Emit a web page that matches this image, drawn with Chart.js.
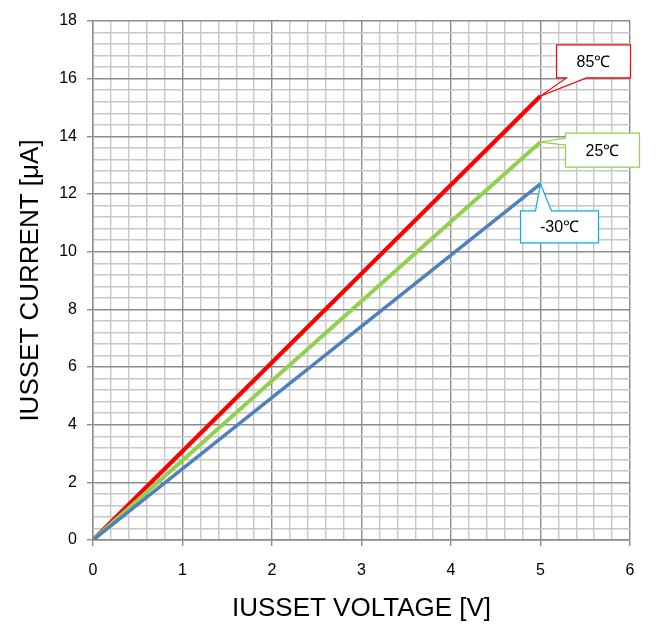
<!DOCTYPE html>
<html>
<head>
<meta charset="utf-8">
<script src="https://cdn.jsdelivr.net/npm/chart.js@4/dist/chart.umd.min.js"></script>
<style>
  html, body { margin: 0; padding: 0; background: #fff; }
  #wrap { width: 657px; height: 628px; }
</style>
</head>
<body>
<div id="wrap"><canvas id="chart" width="657" height="628"></canvas></div>
<script>
const voltage = [0, 5];
const current85 = [0, 15.4];
const current25 = [0, 13.8];
const currentM30 = [0, 12.35];
const seriesLabels = ["85℃", "25℃", "-30℃"];

const isMajor = (v, step) => Math.abs(v / step - Math.round(v / step)) < 1e-6;

function toPoints(ys) {
    return voltage.map((x, i) => ({ x, y: ys[i] }));
}

// callout boxes, offsets relative to the last point of each line
const callouts = [
    { label: "85℃", color: "#FF0000", box: [16, -51, 90, -18], edge: "bottom", base: [26, 46] },
    { label: "25℃", color: "#92D050", box: [25, -9, 99, 25], edge: "left", base: [-4, 3] },
    { label: "-30℃", color: "#00B0F0", box: [-20, 27, 58, 59], edge: "top", base: [-5, 11] }
];

const calloutPlugin = {
    id: "callouts",
    afterDatasetsDraw(chart) {
        const ctx = chart.ctx;
        callouts.forEach(c => {
            const idx = chart.data.datasets.findIndex(d => d.label === c.label);
            const meta = chart.getDatasetMeta(idx);
            const pt = meta.data[meta.data.length - 1];
            const tx = pt.x, ty = pt.y;
            const l = tx + c.box[0], t = ty + c.box[1], r = tx + c.box[2], b = ty + c.box[3];
            ctx.save();
            ctx.beginPath();
            ctx.moveTo(l, t);
            if (c.edge === "top") {
                ctx.lineTo(tx + c.base[0], t);
                ctx.lineTo(tx, ty);
                ctx.lineTo(tx + c.base[1], t);
            }
            ctx.lineTo(r, t);
            ctx.lineTo(r, b);
            if (c.edge === "bottom") {
                ctx.lineTo(tx + c.base[1], b);
                ctx.lineTo(tx, ty);
                ctx.lineTo(tx + c.base[0], b);
            }
            ctx.lineTo(l, b);
            if (c.edge === "left") {
                ctx.lineTo(l, ty + c.base[1]);
                ctx.lineTo(tx, ty);
                ctx.lineTo(l, ty + c.base[0]);
            }
            ctx.closePath();
            ctx.fillStyle = "#fff";
            ctx.fill();
            ctx.strokeStyle = c.color;
            ctx.lineWidth = 1.2;
            ctx.stroke();
            ctx.fillStyle = "#000";
            ctx.font = "16px 'Liberation Sans', Arial, sans-serif";
            ctx.textAlign = "center";
            ctx.textBaseline = "middle";
            ctx.fillText(c.label, (l + r) / 2, (t + b) / 2 + 1);
            ctx.restore();
        });
    }
};

Chart.defaults.font.family = "'Liberation Sans', Arial, sans-serif";
Chart.defaults.color = "#000";

new Chart(document.getElementById("chart"), {
    type: "line",
    data: {
        datasets: [
            { label: seriesLabels[2], data: toPoints(currentM30), borderColor: "#4F81BD", borderWidth: 3.5 },
            { label: seriesLabels[1], data: toPoints(current25), borderColor: "#92D050", borderWidth: 4 },
            { label: seriesLabels[0], data: toPoints(current85), borderColor: "#FF0000", borderWidth: 4.2 }
        ]
    },
    options: {
        responsive: false,
        animation: false,
        events: [],
        elements: { point: { radius: 0 }, line: { tension: 0 } },
        layout: { padding: { top: 21, right: 27, left: 0, bottom: 0 } },
        plugins: { legend: { display: false }, tooltip: { enabled: false } },
        scales: {
            x: {
                type: "linear",
                min: 0, max: 6,
                ticks: {
                    stepSize: 0.2,
                    autoSkip: false,
                    maxRotation: 0,
                    padding: 15,
                    font: { size: 16 },
                    callback: v => isMajor(v, 1) ? Math.round(v) : ""
                },
                grid: {
                    color: c => isMajor(c.tick.value, 1) ? "#8c8c8c" : "#c8c8c8",
                    tickColor: c => isMajor(c.tick.value, 1) ? "#8c8c8c" : "rgba(0,0,0,0)",
                    lineWidth: 1.4,
                    tickLength: 6
                },
                border: { color: "#8c8c8c", width: 1.4 },
                title: { display: true, text: "IUSSET VOLTAGE [V]", font: { size: 26 }, padding: { top: 4, bottom: 4 } },
                afterFit: s => { s.height = 88; }
            },
            y: {
                min: 0, max: 18,
                ticks: {
                    stepSize: 0.4,
                    autoSkip: false,
                    padding: 10,
                    font: { size: 16 },
                    callback: v => isMajor(v, 2) ? Math.round(v) : ""
                },
                grid: {
                    color: c => isMajor(c.tick.value, 2) ? "#8c8c8c" : "#c8c8c8",
                    tickColor: c => isMajor(c.tick.value, 2) ? "#8c8c8c" : "rgba(0,0,0,0)",
                    lineWidth: 1.4,
                    tickLength: 6
                },
                border: { color: "#8c8c8c", width: 1.4 },
                title: { display: true, text: "IUSSET CURRENT [μA]", font: { size: 26 }, padding: { top: 15, bottom: 0 } },
                afterFit: s => { s.width = 93; }
            }
        }
    },
    plugins: [calloutPlugin]
});
</script>
</body>
</html>
